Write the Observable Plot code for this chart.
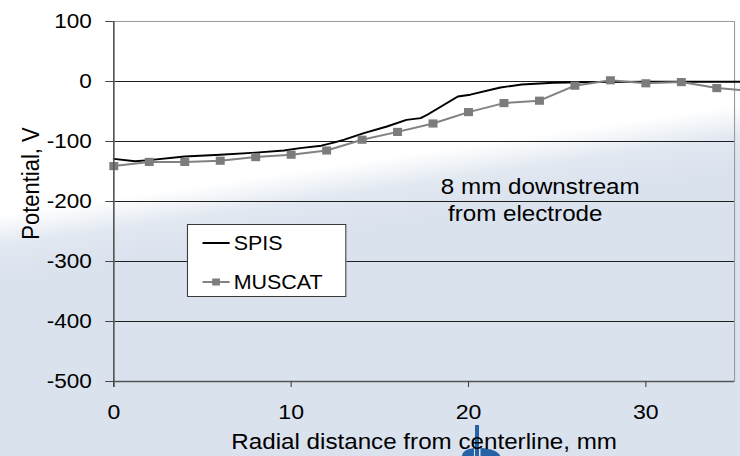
<!DOCTYPE html>
<html>
<head>
<meta charset="utf-8">
<script src="https://cdn.jsdelivr.net/npm/d3@7"></script>
<script src="https://cdn.jsdelivr.net/npm/@observablehq/plot@0.6"></script>
<style>
  html, body { margin: 0; padding: 0; }
  body {
    width: 740px; height: 456px; overflow: hidden;
    background: linear-gradient(171.5deg, #ffffff 0%, #ffffff 38%, #e2e8f1 43.5%, #dae2ee 49.5%, #dae2ee 100%);
    font-family: "Liberation Sans", Arial, sans-serif;
  }
  /* chart is laid out at 673px and widened to the 740px page */
  #wrap {
    position: relative; width: 673px; height: 456px;
    transform: scaleX(1.0996); transform-origin: 0 0;
  }
  #wrap > svg.plot { position: absolute; left: 0; top: 0; }
  #logo { position: absolute; left: 0; top: 0; }
  #legend {
    position: absolute; left: 170px; top: 224px; width: 143px; height: 71px;
    background: #fff; border: 1px solid #3a3a3a;
  }
  #legend .row {
    position: absolute; left: 12.5px; height: 22px;
    display: flex; align-items: center; font-size: 19.5px; color: #000; line-height: 22px;
  }
  #legend .row svg { margin-right: 4px; }
</style>
</head>
<body>
<div id="wrap">
  <svg id="logo" width="673" height="456">
    <rect x="432" y="425" width="3.6" height="31" fill="#2563a6"></rect>
    <path d="M420 456 Q421 449 431 448 L431 456 Z" fill="#2563a6"></path>
    <path d="M437 448 Q452 449 455 456 L437 456 Z" fill="#2563a6"></path>
  </svg>
</div>
<script>
// Potential across the plume, 8 mm downstream of the electrode
const seriesNames = ["SPIS", "MUSCAT"];

const spisX = [0, 1.2, 2, 4, 6, 8, 9.6, 10.5, 11.7, 12.4, 13.0, 14.1, 15.4, 16.5, 17.3, 17.7, 19.4, 20.1, 21.8, 23.0, 24.8, 27, 30, 35, 36];
const spisV = [-129, -133, -131, -125, -122, -118.5, -115, -111, -107, -102, -97, -86, -75, -64, -61, -55, -25, -22, -10, -5, -2, -1, -0.5, -0.5, -0.5];

const muscatX = [0, 2, 4, 6, 8, 10, 12, 14, 16, 18, 20, 22, 24, 26, 28, 30, 32, 34, 36];
const muscatV = [-141, -134, -134, -132, -126, -122, -115, -97, -84, -70, -51, -36, -32, -7, 2, -3, -1, -11, -16];

const xTicks = [0, 10, 20, 30];
const yTicks = [-500, -400, -300, -200, -100, 0, 100];
const gridValues = [-400, -300, -200, -100, 0];

const noteText = ["8 mm downstream", "from electrode"];
const noteX = [18.44, 18.84];
const noteY = [-175.5, -220];

const xLabel = "Radial distance from centerline, mm";
const yLabel = "Potential, V";

const spis = spisX.map((x, i) => ({x, v: spisV[i]}));
const muscat = muscatX.map((x, i) => ({x, v: muscatV[i]}));
const notes = noteText.map((t, i) => ({t, x: noteX[i], v: noteY[i]}));

const chart = Plot.plot({
  width: 673,
  height: 456,
  marginLeft: 103,
  marginRight: 5.5,
  marginTop: 21,
  marginBottom: 75,
  x: {domain: [0, 35]},
  y: {domain: [-500, 100]},
  style: {
    background: "transparent",
    fontFamily: "'Liberation Sans', Arial, sans-serif",
    color: "#000",
    overflow: "hidden"
  },
  marks: [
    Plot.ruleY(gridValues, {stroke: "#1e1e1e", strokeWidth: 1}),
    Plot.frame({stroke: "#9a9a9a", strokeWidth: 1}),
    Plot.line(spis, {x: "x", y: "v", stroke: "#000", strokeWidth: 1.9}),
    Plot.line(muscat, {x: "x", y: "v", stroke: "#828282", strokeWidth: 2}),
    Plot.dot(muscat, {x: "x", y: "v", symbol: "square", r: 4.6, fill: "#7c7c7c", stroke: null}),
    Plot.ruleX([0], {stroke: "#555", strokeWidth: 1.4, insetBottom: -6}),
    Plot.ruleY([-500], {stroke: "#555", strokeWidth: 1.4}),
    Plot.axisX({ticks: xTicks, tickSize: 6, tickPadding: 17, fontSize: 21, label: null, stroke: "#444", tickFormat: d => String(d)}),
    Plot.axisY({ticks: yTicks, tickSize: 7.3, tickPadding: 12.7, fontSize: 20.5, label: null, stroke: "#444", tickFormat: d => String(d)}),
    Plot.text(notes, {x: "x", y: "v", text: "t", textAnchor: "start", fontSize: 22, fill: "#000"}),
    Plot.text([xLabel], {frameAnchor: "bottom", textAnchor: "middle", lineAnchor: "middle", dy: 60, fontSize: 22, fill: "#000"}),
    Plot.text([yLabel], {frameAnchor: "left", textAnchor: "middle", lineAnchor: "middle", rotate: -90, dx: -74.8, dy: -18, fontSize: 22, fill: "#000"})
  ]
});
chart.classList.add("plot");

const wrap = document.getElementById("wrap");
wrap.appendChild(chart);

// legend box drawn over the plot area
const legend = document.createElement("div");
legend.id = "legend";
const swatches = [
  `<svg width="25" height="12"><line x1="0" x2="25" y1="6" y2="6" stroke="#000" stroke-width="1.9"/></svg>`,
  `<svg width="25" height="12"><line x1="0" x2="25" y1="6" y2="6" stroke="#828282" stroke-width="2"/><rect x="9" y="2.5" width="7" height="7" fill="#7c7c7c"/></svg>`
];
const rowTops = [7, 45.5];
seriesNames.forEach((name, i) => {
  const row = document.createElement("div");
  row.className = "row";
  row.style.top = rowTops[i] + "px";
  row.innerHTML = swatches[i] + `<span>${name}</span>`;
  legend.appendChild(row);
});
wrap.appendChild(legend);
</script>
</body>
</html>
